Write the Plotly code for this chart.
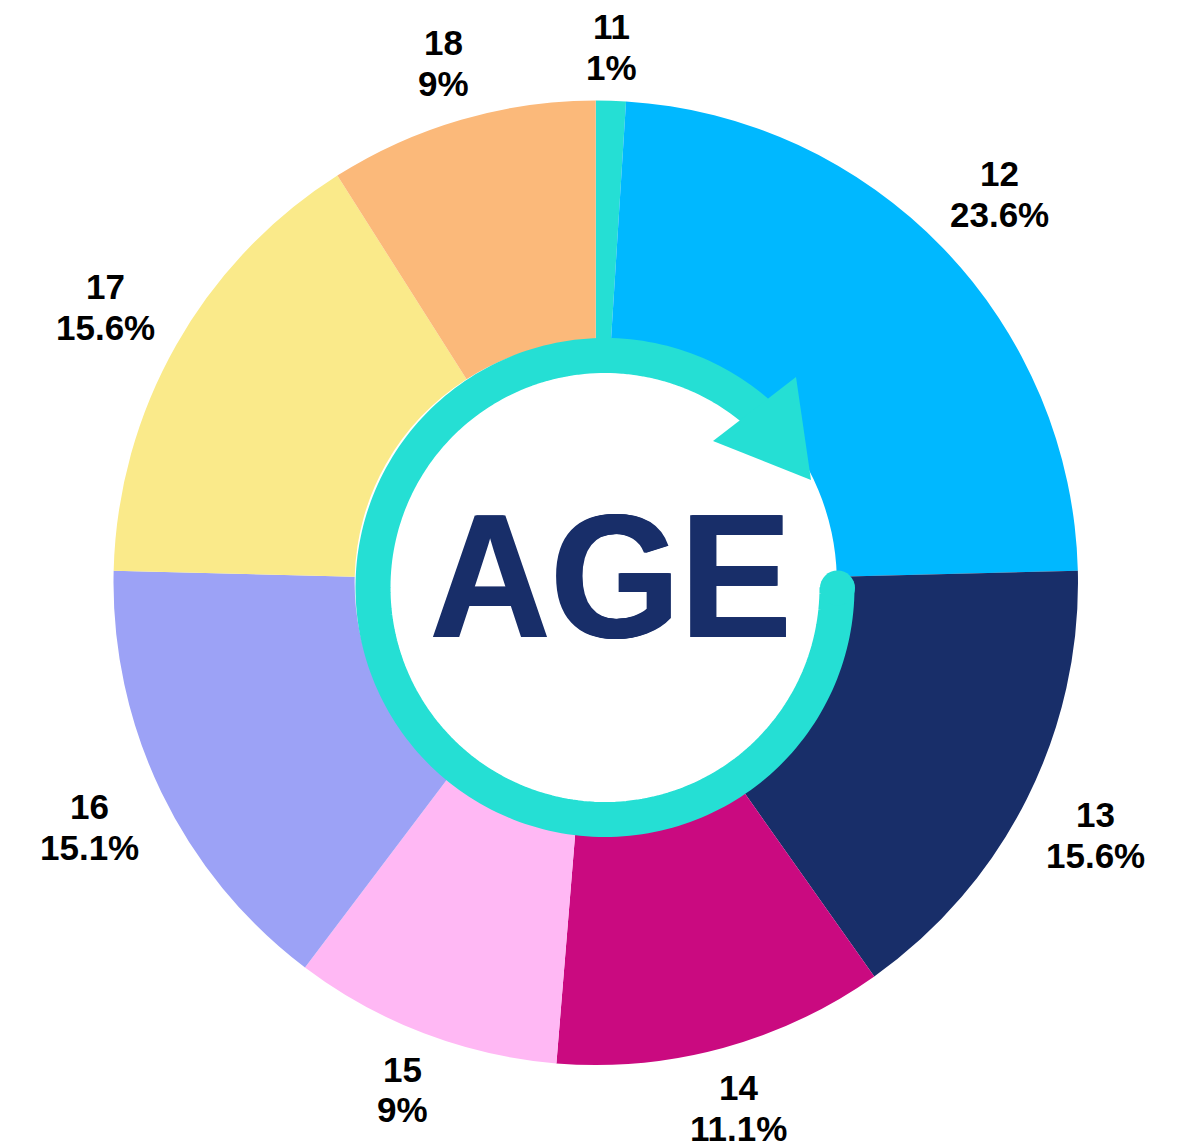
import numpy as np
import plotly.graph_objects as go

ages = ["11", "12", "13", "14", "15", "16", "17", "18"]
shares = [1, 23.6, 15.6, 11.1, 9, 15.1, 15.6, 9]
colors = ["#25DFD4", "#00B8FF", "#182E69", "#CA0A80", "#FFB8F4", "#9CA2F6", "#FAEA8A", "#FBB97A"]
# label anchor pixels: x centre, y centre of age line, y centre of share line
label_x = [611, 999, 1095, 738, 402, 89, 105, 443]
label_y1 = [26, 174, 814, 1087, 1069, 806, 286, 43]
label_y2 = [67, 214, 855, 1128, 1109, 847, 327, 84]

W, H = 1180, 1145
TEAL = "#25DFD4"
NAVY = "#182E69"

def px(x): return x / W
def py(y): return 1 - y / H

cx, cy, r = 605, 587.5, 232
theta = np.radians(np.linspace(0, 313, 220))  # clockwise from east
arc = "M " + " L ".join(f"{px(cx + r*np.cos(t)):.5f},{py(cy + r*np.sin(t)):.5f}" for t in theta)

fig = go.Figure(go.Pie(
    labels=ages, values=shares, textinfo="none",
    sort=False, direction="clockwise", rotation=0, hole=0.5,
    marker=dict(colors=colors, line=dict(width=0)),
    showlegend=False, automargin=False,
    domain=dict(x=[px(113.5), px(1078)], y=[py(1065), py(100.5)]),
))

label_font = dict(family="Liberation Sans", size=35, color="black", weight="bold")
thick = f"1.2px 0 0 {NAVY}, -1.2px 0 0 {NAVY}"
annotations = [dict(text="AGE", x=px(610), y=py(576), xref="paper", yref="paper", showarrow=False,
                    xanchor="center", yanchor="middle",
                    font=dict(family="Liberation Sans", size=176, color=NAVY, weight="bold", shadow=thick))]
for a, s, x, y1, y2 in zip(ages, shares, label_x, label_y1, label_y2):
    annotations.append(dict(text=a, x=px(x), y=py(y1), xref="paper", yref="paper", showarrow=False,
                            xanchor="center", yanchor="middle", font=label_font))
    annotations.append(dict(text=f"{s}%", x=px(x), y=py(y2), xref="paper", yref="paper", showarrow=False,
                            xanchor="center", yanchor="middle", font=label_font))

fig.update_layout(
    width=W, height=H, margin=dict(l=0, r=0, t=0, b=0),
    paper_bgcolor="white", showlegend=False,
    shapes=[
        dict(type="path", xref="paper", yref="paper", path=arc, line=dict(color=TEAL, width=35)),
        dict(type="circle", xref="paper", yref="paper", x0=px(820), x1=px(855), y0=py(570.5), y1=py(605.5),
             fillcolor=TEAL, line=dict(width=0)),
        dict(type="path", xref="paper", yref="paper",
             path=f"M {px(796)},{py(377)} L {px(811)},{py(480)} L {px(713)},{py(441)} Z",
             fillcolor=TEAL, line=dict(width=0)),
    ],
    annotations=annotations,
)
post = """
document.body.style.margin='0';
var t=[...document.querySelectorAll('.annotation-text')].find(function(e){return e.textContent==='AGE';});
if(t){t.style.transformBox='fill-box';t.style.transformOrigin='center';t.style.transform='scaleX(0.948)';}
"""
fig.write_html("out.html", post_script=post, config=dict(displayModeBar=False))
